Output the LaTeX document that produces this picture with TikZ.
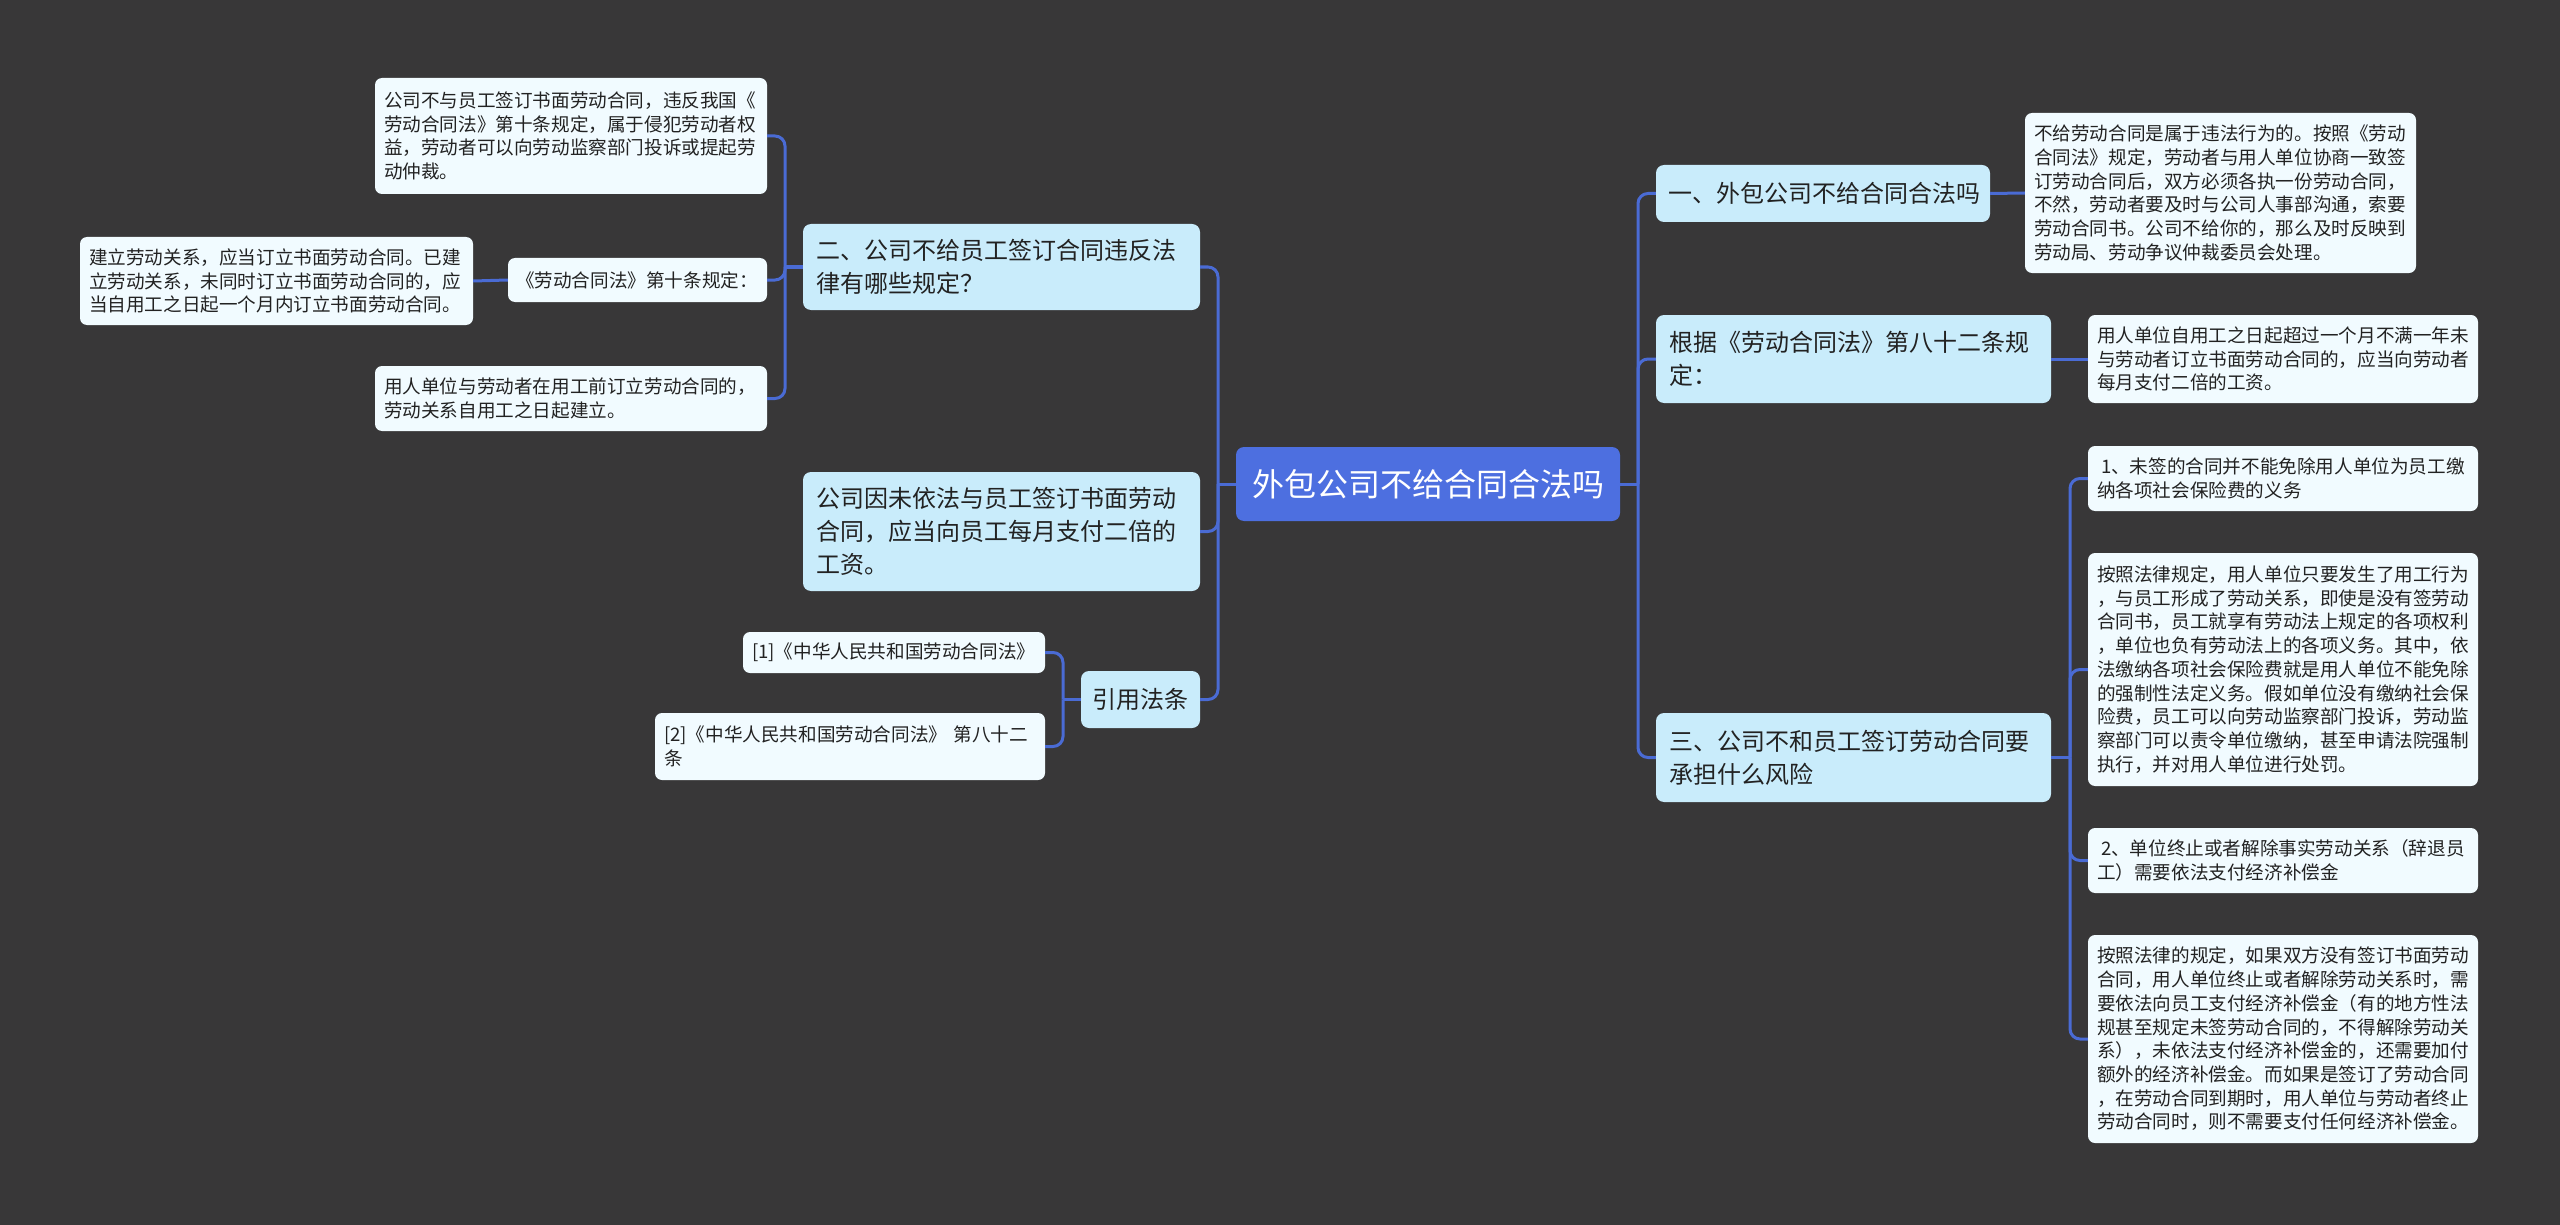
\documentclass[tikz,border=0pt]{standalone}
\usepackage{fontspec}
\newfontfamily\cjk{Noto Sans CJK SC}
\definecolor{bg}{HTML}{383738}
\definecolor{rootblue}{HTML}{4D6FE0}
\definecolor{lvlfill}{HTML}{C9ECFB}
\definecolor{leaffill}{HTML}{F1FBFF}
\definecolor{connc}{HTML}{4A6BD4}
\definecolor{txt}{HTML}{222222}
\tikzset{
  rootbox/.style={fill=rootblue, text=white, rounded corners=8pt, font=\cjk\fontsize{32}{38}\selectfont, inner xsep=16pt, inner ysep=0pt, text width=352pt, minimum height=74pt, align=center},
  lvlbox/.style={fill=lvlfill, text=txt, rounded corners=8pt, font=\cjk\fontsize{24}{33}\selectfont, inner xsep=13pt, inner ysep=0pt, align=left},
  leafbox/.style={fill=leaffill, text=txt, rounded corners=7pt, font=\cjk\fontsize{18.6}{23.7}\selectfont, inner xsep=9pt, inner ysep=0pt, align=left},
  conn/.style={draw=connc, line width=3pt},
  elbow/.style={conn, rounded corners=10pt}
}
\begin{document}
\begin{tikzpicture}[x=1pt,y=-1pt]
\fill[bg] (0,0) rectangle (2560,1225);
\useasboundingbox (0,0) rectangle (2560,1225);

% root
\node[rootbox] (root) at (1428,484) {外包公司不给合同合法吗};

% left level 1
\node[lvlbox, text width=371pt, minimum height=86pt] (l1) at (1001.5,267) {二、公司不给员工签订合同违反法\\律有哪些规定？};
\node[lvlbox, text width=371pt, minimum height=119pt] (l2) at (1001.5,531.5) {公司因未依法与员工签订书面劳动\\合同，应当向员工每月支付二倍的\\工资。};
\node[lvlbox, inner xsep=11.5pt, text width=96pt, minimum height=57pt] (l3) at (1140.5,699.5) {引用法条};

% left level 2
\node[leafbox, text width=374pt, minimum height=116pt] (a1) at (571,136) {公司不与员工签订书面劳动合同，违反我国《\\劳动合同法》第十条规定，属于侵犯劳动者权\\益，劳动者可以向劳动监察部门投诉或提起劳\\动仲裁。};
\node[leafbox, inner xsep=8pt, text width=243pt, minimum height=44pt] (a2) at (637.5,280) {《劳动合同法》第十条规定：};
\node[leafbox, text width=375pt, minimum height=88pt] (a2c) at (276.5,281) {建立劳动关系，应当订立书面劳动合同。已建\\立劳动关系，未同时订立书面劳动合同的，应\\当自用工之日起一个月内订立书面劳动合同。};
\node[leafbox, text width=374pt, minimum height=65pt] (a3) at (571,398.5) {用人单位与劳动者在用工前订立劳动合同的，\\劳动关系自用工之日起建立。};

\node[leafbox, text width=284pt, minimum height=41pt] (b1) at (894,652.5) {[1]《中华人民共和国劳动合同法》};
\node[leafbox, text width=372pt, minimum height=67pt] (b2) at (850,746.5) {[2]《中华人民共和国劳动合同法》 第八十二\\条};

% right level 1
\node[lvlbox, inner xsep=12pt, text width=310pt, minimum height=57pt] (r1) at (1823,193.5) {一、外包公司不给合同合法吗};
\node[lvlbox, text width=369pt, minimum height=88pt] (r2) at (1853.5,359) {根据《劳动合同法》第八十二条规\\定：};
\node[lvlbox, text width=369pt, minimum height=89pt] (r3) at (1853.5,757.5) {三、公司不和员工签订劳动合同要\\承担什么风险};

% right level 2
\node[leafbox, text width=373pt, minimum height=160pt] (r1c) at (2220.5,193) {不给劳动合同是属于违法行为的。按照《劳动\\合同法》规定，劳动者与用人单位协商一致签\\订劳动合同后，双方必须各执一份劳动合同，\\不然，劳动者要及时与公司人事部沟通，索要\\劳动合同书。公司不给你的，那么及时反映到\\劳动局、劳动争议仲裁委员会处理。};
\node[leafbox, text width=372pt, minimum height=88pt] (r2c) at (2283,359) {用人单位自用工之日起超过一个月不满一年未\\与劳动者订立书面劳动合同的，应当向劳动者\\每月支付二倍的工资。};
\node[leafbox, text width=372pt, minimum height=65pt] (c1) at (2283,478.5) {\hspace*{4pt}1、未签的合同并不能免除用人单位为员工缴\\纳各项社会保险费的义务};
\node[leafbox, text width=372pt, minimum height=233pt] (c2) at (2283,669.5) {按照法律规定，用人单位只要发生了用工行为\\，与员工形成了劳动关系，即使是没有签劳动\\合同书，员工就享有劳动法上规定的各项权利\\，单位也负有劳动法上的各项义务。其中，依\\法缴纳各项社会保险费就是用人单位不能免除\\的强制性法定义务。假如单位没有缴纳社会保\\险费，员工可以向劳动监察部门投诉，劳动监\\察部门可以责令单位缴纳，甚至申请法院强制\\执行，并对用人单位进行处罚。};
\node[leafbox, text width=372pt, minimum height=65pt] (c3) at (2283,860.5) {\hspace*{4pt}2、单位终止或者解除事实劳动关系（辞退员\\工）需要依法支付经济补偿金};
\node[leafbox, text width=372pt, minimum height=208pt] (c4) at (2283,1039) {按照法律的规定，如果双方没有签订书面劳动\\合同，用人单位终止或者解除劳动关系时，需\\要依法向员工支付经济补偿金（有的地方性法\\规甚至规定未签劳动合同的，不得解除劳动关\\系），未依法支付经济补偿金的，还需要加付\\额外的经济补偿金。而如果是签订了劳动合同\\，在劳动合同到期时，用人单位与劳动者终止\\劳动合同时，则不需要支付任何经济补偿金。};

% trunk coordinates
\coordinate (tL) at (1218,484);
\coordinate (tR) at (1638,484);
\coordinate (t1) at (785,267);
\coordinate (t3) at (1063,699.5);
\coordinate (tr3) at (2070,757.5);

% connectors
\draw[conn] (root.west) -- (tL);
\draw[elbow] (tL) |- (l1.east);
\draw[elbow] (tL) |- (l2.east);
\draw[elbow] (tL) |- (l3.east);

\draw[conn] (root.east) -- (tR);
\draw[elbow] (tR) |- (r1.west);
\draw[elbow] (tR) |- (r2.west);
\draw[elbow] (tR) |- (r3.west);

\draw[conn] (l1.west) -- (t1);
\draw[elbow] (t1) |- (a1.east);
\draw[elbow] (t1) |- (a2.east);
\draw[elbow] (t1) |- (a3.east);
\draw[conn] (a2.west) -- (a2c.east);

\draw[conn] (l3.west) -- (t3);
\draw[elbow] (t3) |- (b1.east);
\draw[elbow] (t3) |- (b2.east);

\draw[conn] (r1.east) -- (r1c.west);
\draw[conn] (r2.east) -- (r2c.west);

\draw[conn] (r3.east) -- (tr3);
\draw[elbow] (tr3) |- (c1.west);
\draw[elbow] (tr3) |- (c2.west);
\draw[elbow] (tr3) |- (c3.west);
\draw[elbow] (tr3) |- (c4.west);
\end{tikzpicture}
\end{document}
